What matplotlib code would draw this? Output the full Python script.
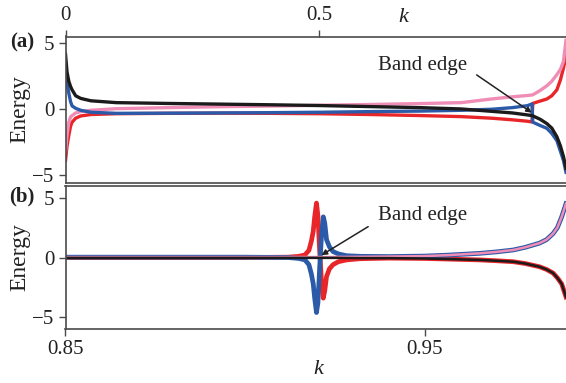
import matplotlib
matplotlib.use('Agg')
import matplotlib.pyplot as plt
import numpy as np

plt.rcParams['font.family'] = ['Liberation Serif', 'DejaVu Serif']
plt.rcParams['font.size'] = 15
plt.rcParams['axes.unicode_minus'] = True

# colours of the four bands
c_red = '#e8262a'
c_blue = '#2b5aa8'
c_pink = '#f08db6'
c_black = '#1b1b1b'

# ---- panel (a): full range of k ----
k_a = [0, 0.003, 0.0065, 0.01, 0.013, 0.02, 0.03, 0.05, 0.1, 0.2, 0.3, 0.4, 0.5,
       0.6, 0.7, 0.78, 0.84, 0.88, 0.91, 0.919, 0.9205, 0.935, 0.948, 0.958,
       0.968, 0.975, 0.981, 0.986]
black_a = [4.15, 2.8, 2.1, 1.7, 1.45, 1.0, 0.8, 0.62, 0.48, 0.42, 0.37, 0.32, 0.26,
           0.18, 0.1, 0.0, -0.18, -0.3, -0.45, -0.5, -0.52, -0.78, -1.1, -1.45,
           -2.1, -2.8, -3.6, -4.5]
blue_a = [3.4, 2.0, 1.2, 0.55, 0.23, 0.05, -0.1, -0.25, -0.33, -0.32, -0.3, -0.28, -0.25,
          -0.2, -0.16, -0.1, -0.02, 0.1, 0.25, 0.38, -1.0, -1.25, -1.46, -1.85,
          -2.4, -3.2, -3.9, -4.8]
red_a = [-3.9, -2.8, -2.0, -1.3, -1.0, -0.7, -0.53, -0.42, -0.36, -0.33, -0.32, -0.33, -0.36,
         -0.42, -0.5, -0.58, -0.7, -0.82, -0.93, -0.98, 0.42, 0.6, 0.75, 1.0,
         1.45, 2.2, 3.1, 4.0]
pink_a = [-3.2, -2.0, -1.0, -0.6, -0.5, -0.3, -0.2, -0.1, 0.02, 0.1, 0.17, 0.22, 0.28,
          0.34, 0.41, 0.48, 0.76, 0.92, 1.02, 1.06, 1.07, 1.4, 1.75, 2.1,
          2.6, 3.0, 3.6, 5.2]

# ---- panel (b): zoom near the band edge ----
k_b = [0.85, 0.9, 0.912, 0.915, 0.9167, 0.9178, 0.9185, 0.919, 0.9194, 0.9199, 0.9203,
       0.9208, 0.9213, 0.9218, 0.9222, 0.9227, 0.9235, 0.9245, 0.926, 0.9283, 0.932,
       0.94, 0.95, 0.9565, 0.9654, 0.97, 0.9747, 0.978, 0.982, 0.984, 0.9858, 0.987,
       0.9882, 0.9894]
red_b = [0.0, 0.0, 0.03, 0.1, 0.22, 0.6, 1.4, 2.2, 3.4, 4.55, 3.5,
         0.5, -2.0, -3.4, -2.8, -1.6, -0.95, -0.6, -0.35, -0.2, -0.1,
         -0.05, -0.08, -0.13, -0.2, -0.27, -0.35, -0.5, -0.77, -1.0, -1.3, -1.7,
         -2.2, -3.3]
blue_b = [0.03, 0.03, 0.0, -0.08, -0.2, -0.6, -1.4, -2.2, -3.4, -4.6, -3.8,
          -0.8, 1.8, 3.4, 2.9, 1.5, 0.9, 0.5, 0.3, 0.15, 0.1,
          0.08, 0.12, 0.2, 0.35, 0.47, 0.63, 0.85, 1.2, 1.5, 2.0, 2.5,
          3.4, 4.5]
pink_b = [0.04, 0.04, 0.04, 0.04, 0.04, 0.04, 0.04, 0.04, 0.04, 0.04, 0.04,
          0.04, 0.04, 0.04, 0.04, 0.04, 0.04, 0.04, 0.05, 0.05, 0.06,
          0.08, 0.12, 0.2, 0.35, 0.47, 0.63, 0.85, 1.2, 1.5, 2.0, 2.5,
          3.4, 4.5]
black_b = [-0.03, -0.03, -0.03, -0.03, -0.03, -0.03, -0.03, -0.03, -0.03, -0.03, -0.03,
           -0.03, -0.03, -0.03, -0.03, -0.03, -0.03, -0.03, -0.03, -0.04, -0.05,
           -0.05, -0.08, -0.13, -0.2, -0.27, -0.35, -0.5, -0.77, -1.0, -1.3, -1.7,
           -2.2, -3.3]

fig = plt.figure(figsize=(5.66, 3.83), dpi=100)
W, H = 566.0, 383.0
ax_a = fig.add_axes([65.5 / W, 1 - 182.5 / H, 1 - 65.5 / W, 146 / H])
ax_b = fig.add_axes([65.5 / W, 1 - 329.3 / H, 1 - 65.5 / W, 143.8 / H])

spine_col = '#4a4a4a'
txt_col = '#222222'
for ax in (ax_a, ax_b):
    for s in ax.spines.values():
        s.set_color(spine_col)
        s.set_linewidth(1.2)
    ax.spines['right'].set_visible(False)
    ax.tick_params(direction='out', length=5, width=1, color=spine_col,
                   labelcolor=txt_col, labelsize=15, pad=3)
    ax.set_yticks([-5, 0, 5])
    ax.set_yticklabels(['\u22125', '0', '5'])

# panel (a)
lw = 2.4
ax_a.plot(k_a, red_a, color=c_red, lw=lw, solid_joinstyle='round')
ax_a.plot(k_a, pink_a, color=c_pink, lw=lw, solid_joinstyle='round')
ax_a.plot(k_a, blue_a, color=c_blue, lw=lw, solid_joinstyle='round')
ax_a.plot(k_a, black_a, color=c_black, lw=lw, solid_joinstyle='round')
ax_a.set_xlim(0, 0.986)
ax_a.set_ylim(-5.57, 5.49)
ax_a.xaxis.tick_top()
ax_a.set_xticks([0, 0.5])
ax_a.set_xticklabels(['0', '0.5'])
ax_a.set_ylabel('Energy', fontsize=17, color=txt_col, labelpad=1)
ax_a.text(0.616, 3.26, 'Band edge', fontsize=15, ha='left', va='center',
          color=txt_col)
ax_a.annotate('', xy=(0.9187, -0.28), xytext=(0.81, 2.58),
              arrowprops=dict(arrowstyle='-|>', color=txt_col, lw=1.1,
                              mutation_scale=8, shrinkA=0, shrinkB=0))

# panel (b)
ax_b.plot(k_b, red_b, color=c_red, lw=3.4, solid_joinstyle='round')
ax_b.plot(k_b, blue_b, color=c_blue, lw=3.4, solid_joinstyle='round')
ax_b.plot(k_b, pink_b, color=c_pink, lw=1.8)
ax_b.plot(k_b, black_b, color=c_black, lw=1.8)
ax_b.set_xlim(0.85, 0.9894)
ax_b.set_ylim(-6.0, 6.02)
ax_b.set_xticks([0.85, 0.95])
ax_b.set_xticklabels(['0.85', '0.95'])
ax_b.set_ylabel('Energy', fontsize=17, color=txt_col, labelpad=1)
ax_b.text(0.937, 3.55, 'Band edge', fontsize=15, ha='left', va='center',
          color=txt_col)
ax_b.annotate('', xy=(0.9213, 0.2), xytext=(0.9343, 2.58),
              arrowprops=dict(arrowstyle='-|>', color=txt_col, lw=1.1,
                              mutation_scale=8, shrinkA=0, shrinkB=0))

# labels placed in figure pixels
fig.text(403 / W, 1 - 18 / H, 'k', fontstyle='italic', fontsize=16,
         ha='center', va='center', color=txt_col)
fig.text(318 / W, 1 - 370 / H, 'k', fontstyle='italic', fontsize=16,
         ha='center', va='center', color=txt_col)
fig.text(22 / W, 1 - 42 / H, '(a)', fontweight='bold', fontsize=15,
         ha='center', va='center', color=txt_col)
fig.text(22 / W, 1 - 196 / H, '(b)', fontweight='bold', fontsize=15,
         ha='center', va='center', color=txt_col)

fig.savefig('out.png', dpi=100)
